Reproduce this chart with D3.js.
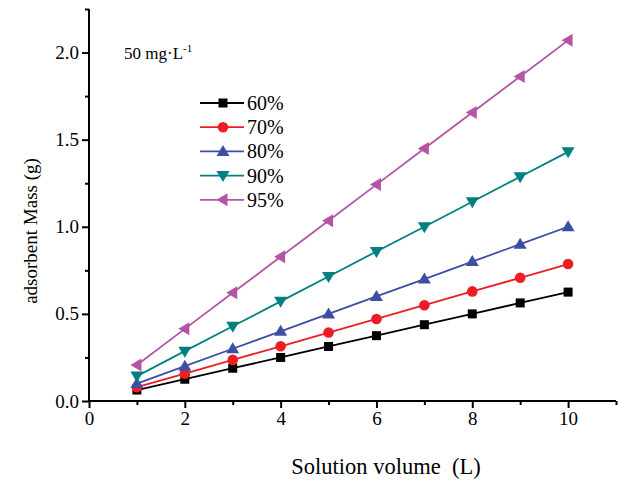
<!DOCTYPE html>
<html lang="en">
<head>
<meta charset="utf-8">
<script src="https://d3js.org/d3.v7.min.js"></script>
<style>
  body { margin: 0; background: #fff; }
</style>
</head>
<body>
<script>
// data
var volumes = [1, 2, 3, 4, 5, 6, 7, 8, 9, 10];
var names = ["60%", "70%", "80%", "90%", "95%"];
var s60 = [0.063, 0.125, 0.188, 0.25, 0.313, 0.375, 0.438, 0.5, 0.563, 0.625];
var s70 = [0.079, 0.157, 0.236, 0.314, 0.393, 0.471, 0.55, 0.629, 0.707, 0.786];
var s80 = [0.1, 0.2, 0.3, 0.4, 0.5, 0.6, 0.7, 0.8, 0.9, 1.0];
var s90 = [0.143, 0.286, 0.429, 0.572, 0.715, 0.858, 1.0, 1.144, 1.287, 1.43];
var s95 = [0.207, 0.414, 0.621, 0.828, 1.035, 1.242, 1.449, 1.656, 1.863, 2.07];
var xTicks = [0, 2, 4, 6, 8, 10];
var yTicks = [0, 0.5, 1.0, 1.5, 2.0];

var colors = ["#000000", "#ee1c25", "#3b4fa5", "#008080", "#b553a5"];
var symbols = ["square", "circle", "up", "down", "left"];
var allSeries = [s60, s70, s80, s90, s95];

var FONT = "'Liberation Serif', 'Times New Roman', serif";
var width = 622, height = 482;
var mLeft = 89, mRight = 616, mTop = 9, mBottom = 401;

var svg = d3.select("body").append("svg")
    .attr("width", width)
    .attr("height", height);

var x = d3.scaleLinear().domain([0, 11]).range([mLeft, mRight]);
var y = d3.scaleLinear().domain([0, 2.25]).range([mBottom, mTop]);

// axes: major labelled ticks + unlabelled minor ticks
var gx = svg.append("g").attr("transform", "translate(0," + mBottom + ")");
gx.append("g").call(d3.axisBottom(x).tickValues([1, 3, 5, 7, 9, 11]).tickSize(4).tickFormat(""));
gx.append("g").call(d3.axisBottom(x).tickValues(xTicks).tickSize(7).tickPadding(4).tickFormat(d3.format("d")));
gx.selectAll("path.domain").attr("d", "M" + mLeft + ",0H" + mRight);

var gy = svg.append("g").attr("transform", "translate(" + mLeft + ",0)");
gy.append("g").call(d3.axisLeft(y).tickValues([0.25, 0.75, 1.25, 1.75, 2.25]).tickSize(4).tickFormat(""));
gy.append("g").call(d3.axisLeft(y).tickValues(yTicks).tickSize(7).tickPadding(3).tickFormat(d3.format(".1f")));
gy.selectAll("path.domain").attr("d", "M0," + mTop + "V" + mBottom);

svg.selectAll("g").attr("font-family", FONT);
svg.selectAll(".domain, .tick line").attr("stroke", "#000").attr("stroke-width", 2);
svg.selectAll(".tick text").attr("font-size", 19).attr("fill", "#000");

function marker(g, type, cx, cy, col) {
  var s = 5.5;
  if (type == "square") {
    g.append("rect").attr("x", cx - 4.5).attr("y", cy - 4.5).attr("width", 9).attr("height", 9).attr("fill", col);
  } else if (type == "circle") {
    g.append("circle").attr("cx", cx).attr("cy", cy).attr("r", 5.3).attr("fill", col);
  } else {
    var pts;
    if (type == "up") pts = [[cx, cy - s - 1], [cx - s - 1, cy + s - 1], [cx + s + 1, cy + s - 1]];
    if (type == "down") pts = [[cx, cy + s + 1], [cx - s - 1, cy - s + 1], [cx + s + 1, cy - s + 1]];
    if (type == "left") pts = [[cx - s - 1, cy], [cx + s - 1, cy - s - 1], [cx + s - 1, cy + s + 1]];
    g.append("polygon").attr("points", pts.map(function(p) { return p.join(","); }).join(" ")).attr("fill", col);
  }
}

var line = d3.line()
    .x(function(d) { return x(d[0]); })
    .y(function(d) { return y(d[1]); });

allSeries.forEach(function(vals, i) {
  var pts = volumes.map(function(v, j) { return [v, vals[j]]; });
  var g = svg.append("g");
  g.append("path")
    .attr("d", line(pts))
    .attr("fill", "none")
    .attr("stroke", colors[i])
    .attr("stroke-width", 1.8);
  pts.forEach(function(p) { marker(g, symbols[i], x(p[0]), y(p[1]), colors[i]); });
});

// legend
var legend = svg.append("g").attr("font-family", FONT);
names.forEach(function(n, i) {
  var ly = 103 + i * 24.2;
  legend.append("line")
    .attr("x1", 200).attr("x2", 244).attr("y1", ly).attr("y2", ly)
    .attr("stroke", colors[i]).attr("stroke-width", 1.8);
  marker(legend, symbols[i], 223, ly, colors[i]);
  legend.append("text")
    .attr("x", 247).attr("y", ly + 7)
    .attr("font-family", FONT)
    .attr("font-size", 20)
    .text(n);
});

// annotation
var ann = svg.append("text").attr("x", 124).attr("y", 59)
    .attr("font-family", FONT).attr("font-size", 17);
ann.append("tspan").text("50 mg\u00b7L");
ann.append("tspan").attr("dy", -7).attr("font-size", 11).text("-1");

// axis titles
svg.append("text")
    .attr("x", 386).attr("y", 474)
    .attr("text-anchor", "middle")
    .attr("font-family", FONT)
    .attr("font-size", 22.5)
    .text("Solution volume\u00a0 (L)");

svg.append("text")
    .attr("transform", "translate(37,231) rotate(-90)")
    .attr("text-anchor", "middle")
    .attr("font-family", FONT)
    .attr("font-size", 19)
    .text("adsorbent Mass (g)");
</script>
</body>
</html>
